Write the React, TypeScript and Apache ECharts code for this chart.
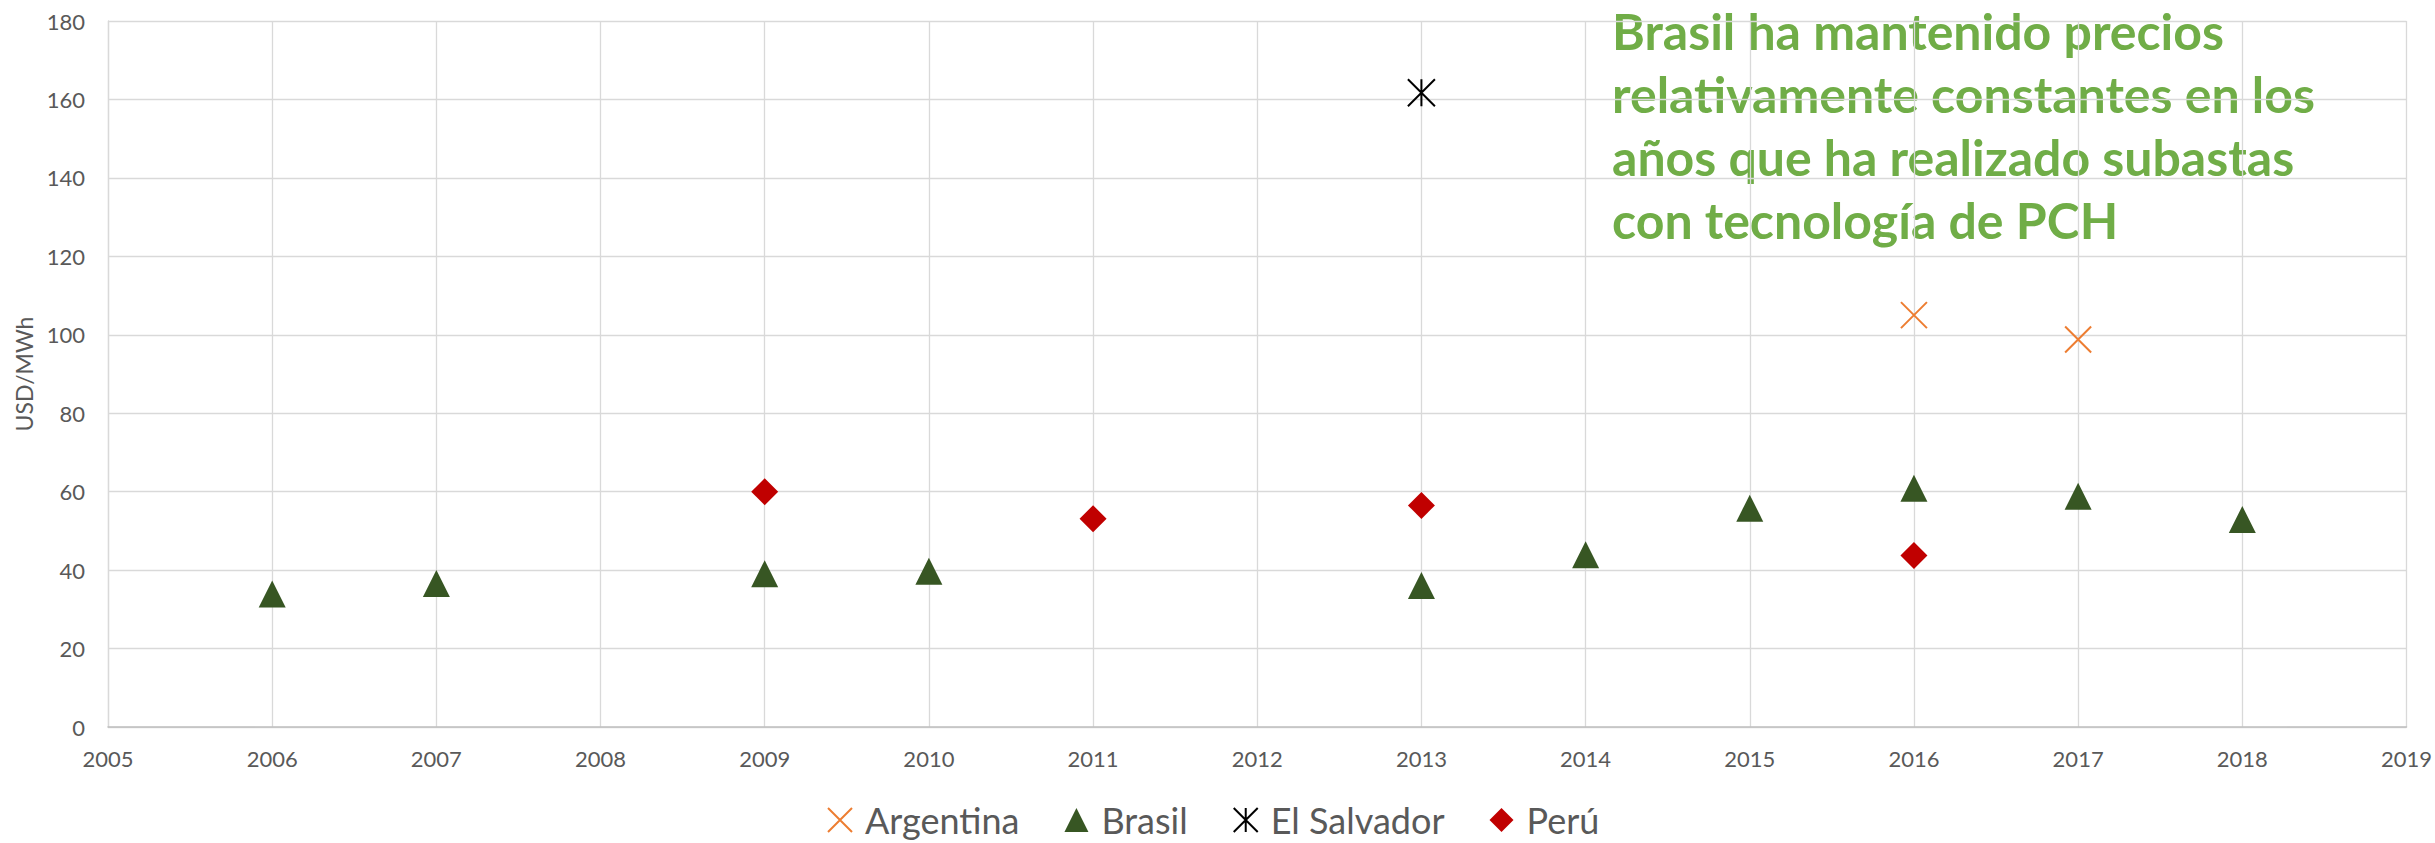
import React, { useEffect, useRef } from "react";
import * as echarts from "echarts";

// ---- data ----
const argentinaYears = [2016, 2017];
const argentinaValues = [105.0, 98.8];

const brasilYears = [2006, 2007, 2009, 2010, 2013, 2014, 2015, 2016, 2017, 2018];
const brasilValues = [33.9, 36.6, 39.1, 39.7, 36.1, 43.9, 55.8, 60.9, 58.8, 52.9];

const elSalvadorYears = [2013];
const elSalvadorValues = [161.7];

const peruYears = [2009, 2011, 2013, 2016];
const peruValues = [60.0, 53.1, 56.5, 43.7];

const seriesNames = ["Argentina", "Brasil", "El Salvador", "Perú"];
const yAxisTitle = "USD/MWh";
const annotationLines = [
  "Brasil ha mantenido precios",
  "relativamente constantes en los",
  "años que ha realizado subastas",
  "con tecnología de PCH",
];

const FONT = "Lato, 'Open Sans', sans-serif";
const TEXT_GRAY = "#595959";

const pair = (xs: number[], ys: number[]) => xs.map((x, i) => [x, ys[i]]);

export default function App() {
  const ref = useRef<HTMLDivElement>(null);

  useEffect(() => {
    if (!ref.current) return;
    const chart = echarts.init(ref.current, undefined, { renderer: "svg" });
    const crossPath = "path://M0,0L10,10M10,0L0,10";
    const starPath = "path://M0,0L10,10M10,0L0,10M5,0L5,10";
    chart.setOption({
      animation: false,
      backgroundColor: "#ffffff",
      textStyle: { fontFamily: FONT },
      grid: { left: 108, right: 28, top: 21, bottom: 116, containLabel: false },
      xAxis: {
        type: "value",
        min: 2005,
        max: 2019,
        interval: 1,
        axisLine: { show: true, lineStyle: { color: "#bfbfbf", width: 1.5 } },
        axisTick: { show: false },
        splitLine: { show: true, lineStyle: { color: "#d9d9d9", width: 1.3 } },
        axisLabel: {
          color: TEXT_GRAY,
          fontSize: 22,
          fontFamily: FONT,
          margin: 20,
          formatter: (v: number) => String(v),
        },
      },
      yAxis: {
        type: "value",
        min: 0,
        max: 180,
        interval: 20,
        name: yAxisTitle,
        nameLocation: "middle",
        nameRotate: 90,
        nameGap: 71,
        nameTextStyle: { color: TEXT_GRAY, fontSize: 23, fontFamily: FONT },
        axisLine: { show: true, lineStyle: { color: "#d9d9d9", width: 1.3 } },
        axisTick: { show: false },
        splitLine: { show: true, lineStyle: { color: "#d9d9d9", width: 1.3 } },
        axisLabel: { color: TEXT_GRAY, fontSize: 22, fontFamily: FONT, margin: 23 },
      },
      legend: {
        left: 827,
        top: 802,
        padding: 0,
        itemWidth: 24,
        itemHeight: 24,
        itemGap: 45,
        textStyle: {
          color: TEXT_GRAY,
          fontSize: 36,
          lineHeight: 36,
          fontFamily: FONT,
          padding: [0, 0, 0, 8],
        },
        data: seriesNames,
      },
      graphic: [
        {
          type: "text",
          left: 1612,
          top: -1,
          style: {
            text: annotationLines.join("\n"),
            fill: "#70ad47",
            font: `bold 50px ${FONT}`,
            lineHeight: 63,
          },
        },
      ],
      series: [
        {
          name: seriesNames[0],
          type: "scatter",
          symbol: crossPath,
          symbolSize: 26,
          itemStyle: { color: "transparent", borderColor: "#ed7d31", borderWidth: 2, opacity: 1 },
          data: pair(argentinaYears, argentinaValues),
        },
        {
          name: seriesNames[1],
          type: "scatter",
          symbol: "triangle",
          symbolSize: 27,
          itemStyle: { color: "#375623", opacity: 1 },
          data: pair(brasilYears, brasilValues),
        },
        {
          name: seriesNames[2],
          type: "scatter",
          symbol: starPath,
          symbolSize: 27,
          itemStyle: { color: "transparent", borderColor: "#000000", borderWidth: 2, opacity: 1 },
          data: pair(elSalvadorYears, elSalvadorValues),
        },
        {
          name: seriesNames[3],
          type: "scatter",
          symbol: "diamond",
          symbolSize: 27,
          itemStyle: { color: "#c00000", opacity: 1 },
          data: pair(peruYears, peruValues),
        },
      ],
    });
    return () => chart.dispose();
  }, []);

  return (
    <div
      ref={ref}
      style={{ position: "absolute", left: 0, top: 0, width: 2435, height: 843 }}
    />
  );
}
